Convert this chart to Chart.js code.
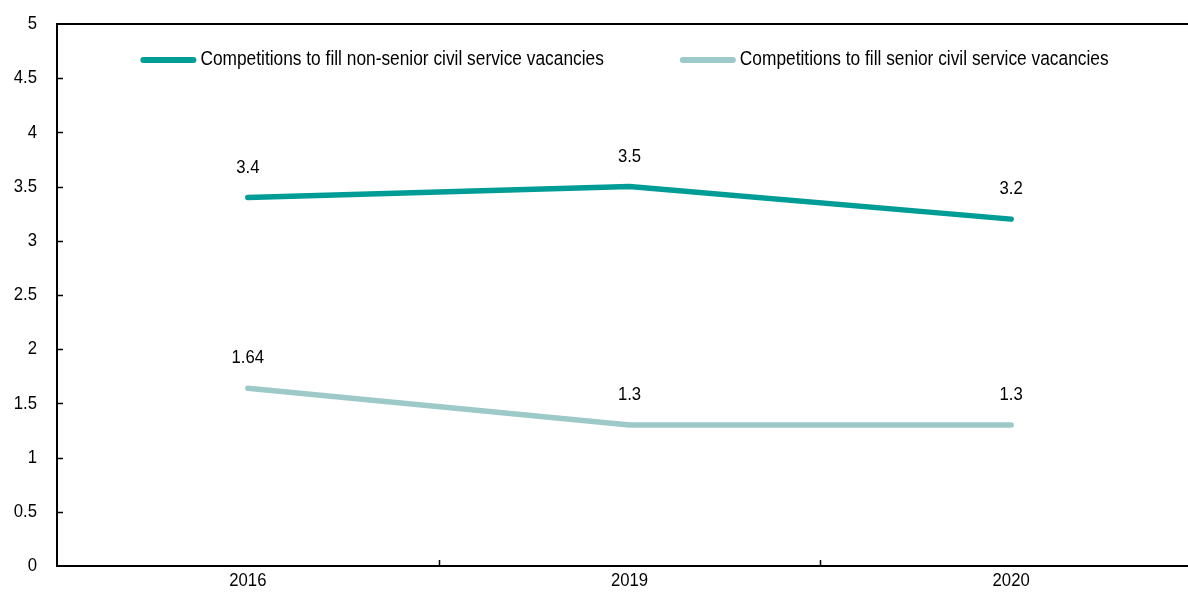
<!DOCTYPE html>
<html>
<head>
<meta charset="utf-8">
<script src="https://cdn.jsdelivr.net/npm/chart.js@4.4.1/dist/chart.umd.min.js"></script>
<style>
  html, body { margin: 0; padding: 0; background: #fff; overflow: hidden; }
  .wrap { width: 1202px; height: 592px; }
</style>
</head>
<body>
<div class="wrap"><canvas id="chart"></canvas></div>
<script>
const years = ['2016', '2019', '2020'];
const nonSenior = [3.4, 3.5, 3.2];
const senior = [1.64, 1.3, 1.3];
const seriesNames = [
  'Competitions to fill non-senior civil service vacancies',
  'Competitions to fill senior civil service vacancies'
];

const FONT = '"Liberation Sans", Arial, sans-serif';
const NARROW = 0.88; // horizontal squeeze to get a narrow face
const dark = '#009c96';
const light = '#9dcac8';

// draw text squeezed horizontally
function narrowText(ctx, text, x, y, size, align) {
  ctx.save();
  ctx.font = size + 'px ' + FONT;
  ctx.textAlign = align;
  ctx.textBaseline = 'middle';
  ctx.fillStyle = '#000';
  ctx.scale(NARROW, 1);
  ctx.fillText(text, x / NARROW, y);
  ctx.restore();
}

// inward tick marks, tick labels, top border, value labels and the legend
const extras = {
  id: 'extras',
  afterDraw(chart) {
    const { ctx, chartArea: a, scales } = chart;
    const x = scales.x, y = scales.y;
    ctx.save();
    ctx.strokeStyle = '#000';
    ctx.lineWidth = 2;
    ctx.beginPath();
    ctx.moveTo(a.left, a.top);
    ctx.lineTo(a.right, a.top);
    ctx.stroke();

    ctx.lineWidth = 1.5;
    ctx.beginPath();
    y.ticks.forEach(t => {
      if (t.value === 0 || t.value === 5) return;
      const py = Math.round(y.getPixelForValue(t.value)) + 0.5;
      ctx.moveTo(a.left, py);
      ctx.lineTo(a.left + 6, py);
    });
    for (let i = 0; i < years.length - 1; i++) {
      const px = Math.round((x.getPixelForTick(i) + x.getPixelForTick(i + 1)) / 2) + 0.5;
      ctx.moveTo(px, a.bottom);
      ctx.lineTo(px, a.bottom - 6);
    }
    ctx.stroke();
    ctx.restore();

    // axis labels
    y.ticks.forEach(t => {
      narrowText(ctx, String(t.value), 37, y.getPixelForValue(t.value), 19, 'right');
    });
    years.forEach((yr, i) => {
      narrowText(ctx, yr, x.getPixelForTick(i), a.bottom + 15, 19, 'center');
    });

    // value labels above each point
    chart.data.datasets.forEach((ds, di) => {
      chart.getDatasetMeta(di).data.forEach((pt, i) => {
        narrowText(ctx, String(ds.data[i]), pt.x, pt.y - 30, 19, 'center');
      });
    });

    // legend
    ctx.save();
    const legendSize = 19.7;
    ctx.font = legendSize + 'px ' + FONT;
    const sample = 56, gap = 4, itemGap = 76;
    const items = chart.data.datasets.map(ds => ({
      label: ds.label, color: ds.borderColor, w: ctx.measureText(ds.label).width * NARROW
    }));
    const total = items.reduce((s, it) => s + sample + gap + it.w, 0) + itemGap * (items.length - 1);
    let lx = 624.5 - total / 2;
    const ly = 60;
    items.forEach(it => {
      ctx.strokeStyle = it.color;
      ctx.lineWidth = 6;
      ctx.lineCap = 'round';
      ctx.beginPath();
      ctx.moveTo(lx + 3, ly);
      ctx.lineTo(lx + sample - 3, ly);
      ctx.stroke();
      narrowText(ctx, it.label, lx + sample + gap, ly, legendSize, 'left');
      lx += sample + gap + it.w + itemGap;
    });
    ctx.restore();
  }
};

new Chart(document.getElementById('chart'), {
  type: 'line',
  data: {
    labels: years,
    datasets: [
      {
        label: seriesNames[0],
        data: nonSenior,
        borderColor: dark,
        backgroundColor: dark,
        borderWidth: 5.5,
        borderCapStyle: 'round',
        pointRadius: 0,
        tension: 0
      },
      {
        label: seriesNames[1],
        data: senior,
        borderColor: light,
        backgroundColor: light,
        borderWidth: 5.5,
        borderCapStyle: 'round',
        pointRadius: 0,
        tension: 0
      }
    ]
  },
  options: {
    responsive: true,
    maintainAspectRatio: false,
    animation: false,
    events: [],
    layout: { padding: { top: 24, right: 0, left: 0, bottom: 0 } },
    plugins: {
      legend: { display: false },
      tooltip: { enabled: false }
    },
    scales: {
      x: {
        offset: true,
        grid: { display: true, drawOnChartArea: false, drawTicks: false, offset: true },
        border: { display: true, color: '#000', width: 2 },
        ticks: { display: false },
        afterFit(scale) { scale.height = 26; }
      },
      y: {
        min: 0,
        max: 5,
        grid: { display: true, drawOnChartArea: false, drawTicks: false },
        border: { display: true, color: '#000', width: 2 },
        ticks: { display: false, stepSize: 0.5 },
        afterFit(scale) { scale.width = 57; }
      }
    }
  },
  plugins: [extras]
});
</script>
</body>
</html>
